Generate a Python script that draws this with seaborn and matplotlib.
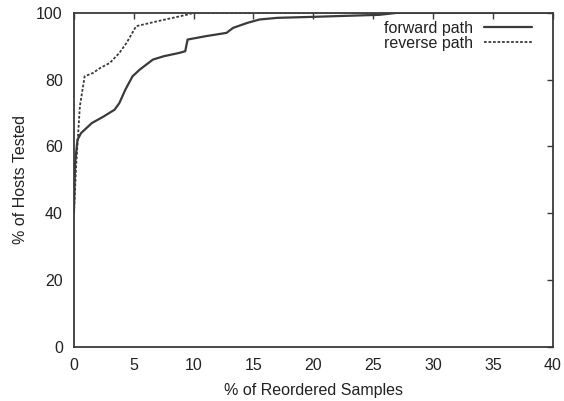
import pandas as pd
import matplotlib.pyplot as plt
import seaborn as sb

# reordering CDF
forward_x = [0, 0.1, 0.3, 0.6, 1.5, 2.5, 3.4, 3.8, 4.3, 4.9, 5.5, 6.6, 7.5, 8.8, 9.3, 9.5,
             11, 12.75, 13.3, 14.5, 15.5, 17, 20, 25.5, 27, 40]
forward_y = [40, 55, 62, 64, 67, 69, 71, 73, 77, 81, 83, 86, 87, 88, 88.5, 92,
             93, 94, 95.5, 97, 98, 98.5, 98.8, 99.4, 100, 100]

reverse_x = [0, 0.2, 0.5, 0.9, 1.6, 2.2, 3.0, 3.8, 4.4, 5.2, 7, 9.4, 10, 40]
reverse_y = [40, 55, 72, 81, 82, 83.5, 85, 88, 91, 96, 97.5, 99.4, 100, 100]

labels = ['forward path', 'reverse path']

sb.set_style('white')
plt.rcParams['font.family'] = ['Liberation Sans', 'DejaVu Sans']

fwd = pd.DataFrame({'x': forward_x, 'y': forward_y})
rev = pd.DataFrame({'x': reverse_x, 'y': reverse_y})

fig = plt.figure(figsize=(5.64, 4.01), dpi=100)
ax = fig.add_axes([0.131, 0.135, 0.849, 0.833])

ink = '#3a3a3a'
fs = 11.5
sb.lineplot(data=fwd, x='x', y='y', ax=ax, sort=False, estimator=None,
            color=ink, lw=1.6, label=labels[0])
sb.lineplot(data=rev, x='x', y='y', ax=ax, sort=False, estimator=None,
            color=ink, lw=1.3, ls=(0, (1.5, 1)), label=labels[1])

ax.set_xlim(0, 40)
ax.set_ylim(0, 100)
ax.set_xticks(range(0, 41, 5))
ax.set_yticks(range(0, 101, 20))
ax.set_xlabel('% of Reordered Samples', fontsize=fs, color='#222222', labelpad=7)
ax.set_ylabel('% of Hosts Tested', fontsize=fs, color='#222222', labelpad=6)
ax.tick_params(direction='in', length=4, width=1, top=True, right=True,
               labelsize=fs, colors='#222222', color=ink, pad=8)
for s in ax.spines.values():
    s.set_color(ink)
    s.set_linewidth(1.3)

leg = ax.legend(loc='upper right', bbox_to_anchor=(0.98, 1.01), frameon=False,
                markerfirst=False, fontsize=fs, handlelength=3.0,
                handletextpad=0.7, labelspacing=0.0, borderpad=0.2)
for t in leg.get_texts():
    t.set_color('#222222')

fig.savefig('out.png', dpi=100)
